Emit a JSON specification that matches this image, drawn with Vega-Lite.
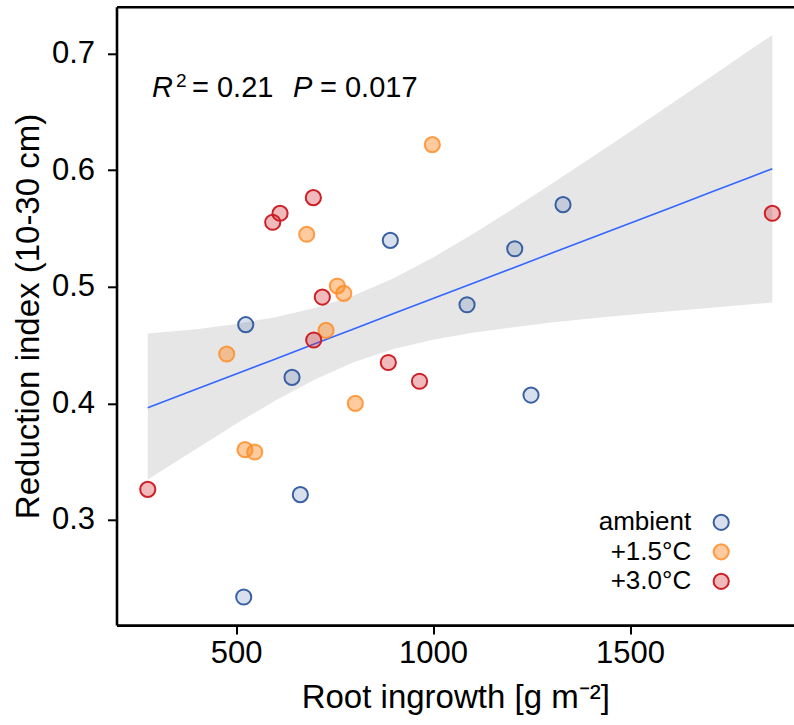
{
  "$schema": "https://vega.github.io/schema/vega-lite/v6.json",
  "autosize": "none",
  "width": 677.5,
  "height": 618.3,
  "padding": {"left": 116.5, "top": 6.8, "right": 0, "bottom": 99.9},
  "background": "white",
  "config": {
    "view": {"stroke": null},
    "font": "Liberation Sans",
    "axis": {
      "grid": false,
      "domainColor": "black",
      "domainWidth": 2.6,
      "tickColor": "black",
      "tickWidth": 2,
      "tickSize": 9,
      "labelFont": "Liberation Sans",
      "labelFontSize": 31,
      "labelColor": "black",
      "titleFont": "Liberation Sans",
      "titleFontSize": 33,
      "titleFontWeight": "normal",
      "titleColor": "black"
    }
  },
  "datasets": {
    "plots": [
      {"root_ingrowth": 524.6, "reduction_index": 0.4674, "treatment": "ambient"},
      {"root_ingrowth": 642.1, "reduction_index": 0.4223, "treatment": "ambient"},
      {"root_ingrowth": 663.2, "reduction_index": 0.3217, "treatment": "ambient"},
      {"root_ingrowth": 519.5, "reduction_index": 0.2340, "treatment": "ambient"},
      {"root_ingrowth": 891.6, "reduction_index": 0.5397, "treatment": "ambient"},
      {"root_ingrowth": 1329.9, "reduction_index": 0.5703, "treatment": "ambient"},
      {"root_ingrowth": 1207.4, "reduction_index": 0.5325, "treatment": "ambient"},
      {"root_ingrowth": 1086.3, "reduction_index": 0.4845, "treatment": "ambient"},
      {"root_ingrowth": 1248.7, "reduction_index": 0.4071, "treatment": "ambient"},
      {"root_ingrowth": 679.4, "reduction_index": 0.5449, "treatment": "+1.5°C"},
      {"root_ingrowth": 757.1, "reduction_index": 0.5006, "treatment": "+1.5°C"},
      {"root_ingrowth": 773.4, "reduction_index": 0.4943, "treatment": "+1.5°C"},
      {"root_ingrowth": 728.4, "reduction_index": 0.4626, "treatment": "+1.5°C"},
      {"root_ingrowth": 476.4, "reduction_index": 0.4423, "treatment": "+1.5°C"},
      {"root_ingrowth": 802.8, "reduction_index": 0.4000, "treatment": "+1.5°C"},
      {"root_ingrowth": 522.8, "reduction_index": 0.3603, "treatment": "+1.5°C"},
      {"root_ingrowth": 547.5, "reduction_index": 0.3583, "treatment": "+1.5°C"},
      {"root_ingrowth": 998.2, "reduction_index": 0.6217, "treatment": "+1.5°C"},
      {"root_ingrowth": 696.2, "reduction_index": 0.5763, "treatment": "+3.0°C"},
      {"root_ingrowth": 611.7, "reduction_index": 0.5629, "treatment": "+3.0°C"},
      {"root_ingrowth": 593.1, "reduction_index": 0.5552, "treatment": "+3.0°C"},
      {"root_ingrowth": 719.0, "reduction_index": 0.4911, "treatment": "+3.0°C"},
      {"root_ingrowth": 697.2, "reduction_index": 0.4543, "treatment": "+3.0°C"},
      {"root_ingrowth": 886.5, "reduction_index": 0.4350, "treatment": "+3.0°C"},
      {"root_ingrowth": 965.7, "reduction_index": 0.4189, "treatment": "+3.0°C"},
      {"root_ingrowth": 275.9, "reduction_index": 0.3263, "treatment": "+3.0°C"},
      {"root_ingrowth": 1861.2, "reduction_index": 0.5629, "treatment": "+3.0°C"}
    ],
    "fit": [
      {"root_ingrowth": 275.9, "fit": 0.3963, "lower": 0.3348, "upper": 0.4598},
      {"root_ingrowth": 400, "fit": 0.4123, "lower": 0.3611, "upper": 0.4635},
      {"root_ingrowth": 500, "fit": 0.4252, "lower": 0.3824, "upper": 0.4681},
      {"root_ingrowth": 600, "fit": 0.4381, "lower": 0.4024, "upper": 0.4738},
      {"root_ingrowth": 700, "fit": 0.4511, "lower": 0.4205, "upper": 0.4817},
      {"root_ingrowth": 800, "fit": 0.4640, "lower": 0.4354, "upper": 0.4926},
      {"root_ingrowth": 900, "fit": 0.4769, "lower": 0.4466, "upper": 0.5072},
      {"root_ingrowth": 1000, "fit": 0.4898, "lower": 0.4546, "upper": 0.5250},
      {"root_ingrowth": 1100, "fit": 0.5027, "lower": 0.4605, "upper": 0.5450},
      {"root_ingrowth": 1200, "fit": 0.5156, "lower": 0.4651, "upper": 0.5661},
      {"root_ingrowth": 1300, "fit": 0.5286, "lower": 0.4692, "upper": 0.5881},
      {"root_ingrowth": 1400, "fit": 0.5415, "lower": 0.4727, "upper": 0.6103},
      {"root_ingrowth": 1500, "fit": 0.5544, "lower": 0.4759, "upper": 0.6329},
      {"root_ingrowth": 1600, "fit": 0.5673, "lower": 0.4789, "upper": 0.6557},
      {"root_ingrowth": 1700, "fit": 0.5802, "lower": 0.4818, "upper": 0.6786},
      {"root_ingrowth": 1800, "fit": 0.5932, "lower": 0.4847, "upper": 0.7017},
      {"root_ingrowth": 1861.2, "fit": 0.6011, "lower": 0.4864, "upper": 0.7158}
    ],
    "annotation": [{}]
  },
  "layer": [
    {
      "data": {"name": "fit"},
      "mark": {"type": "area", "color": "#e6e6e6"},
      "encoding": {
        "x": {
          "field": "root_ingrowth", "type": "quantitative",
          "scale": {"domain": [196.6, 1916.2], "nice": false, "zero": false},
          "axis": {"orient": "top", "labels": false, "ticks": false, "title": null}
        },
        "y": {
          "field": "lower", "type": "quantitative",
          "scale": {"domain": [0.2099, 0.7399], "nice": false, "zero": false},
          "axis": {"values": [0.3, 0.4, 0.5, 0.6, 0.7], "format": ".1f", "labelPadding": 13, "titlePadding": 6, "title": "Reduction index (10-30 cm)"}
        },
        "y2": {"field": "upper"}
      }
    },
    {
      "data": {"name": "fit"},
      "mark": {"type": "line", "color": "#3366ff", "strokeWidth": 1.6},
      "encoding": {
        "x": {"field": "root_ingrowth", "type": "quantitative", "axis": null},
        "y": {"field": "fit", "type": "quantitative", "title": "Reduction index (10-30 cm)"}
      }
    },
    {
      "data": {"name": "plots"},
      "mark": {"type": "point", "shape": "circle", "size": 230, "strokeWidth": 2, "opacity": 1},
      "encoding": {
        "x": {
          "field": "root_ingrowth", "type": "quantitative",
          "axis": {"orient": "bottom", "values": [500, 1000, 1500], "format": "d", "labelPadding": 4, "titlePadding": 13, "title": "Root ingrowth [g m⁻²]"}
        },
        "y": {"field": "reduction_index", "type": "quantitative", "title": "Reduction index (10-30 cm)"},
        "fill": {
          "field": "treatment", "type": "nominal",
          "scale": {"domain": ["ambient", "+1.5°C", "+3.0°C"], "range": ["rgba(60,100,168,0.2)", "rgba(255,140,40,0.45)", "rgba(204,26,34,0.3)"]},
          "legend": {"orient": "none", "legendX": 591.7, "legendY": 502.5, "title": null, "labelFontSize": 26, "labelFont": "Liberation Sans", "labelColor": "black", "labelAlign": "right", "labelOffset": -43, "symbolSize": 230, "symbolStrokeWidth": 2, "rowPadding": 3.5, "padding": 0}
        },
        "stroke": {
          "field": "treatment", "type": "nominal",
          "scale": {"domain": ["ambient", "+1.5°C", "+3.0°C"], "range": ["#3a60a4", "rgba(255,136,30,0.8)", "#cc1f26"]},
          "legend": {"orient": "none", "legendX": 591.7, "legendY": 502.5, "title": null, "labelFontSize": 26, "labelFont": "Liberation Sans", "labelColor": "black", "labelAlign": "right", "labelOffset": -43, "symbolSize": 230, "symbolStrokeWidth": 2, "rowPadding": 3.5, "padding": 0}
        }
      }
    },
    {
      "data": {"name": "annotation"},
      "mark": {"type": "text", "text": "R", "fontStyle": "italic", "fontSize": 29, "align": "left", "baseline": "alphabetic", "color": "black"},
      "encoding": {
        "x": {"datum": 286.7, "type": "quantitative", "axis": null},
        "y": {"datum": 0.6625, "type": "quantitative", "title": "Reduction index (10-30 cm)"}
      }
    },
    {
      "data": {"name": "annotation"},
      "mark": {"type": "text", "text": "2", "fontSize": 19, "align": "left", "baseline": "alphabetic", "color": "black"},
      "encoding": {
        "x": {"datum": 347.6, "type": "quantitative", "axis": null},
        "y": {"datum": 0.6711, "type": "quantitative", "title": "Reduction index (10-30 cm)"}
      }
    },
    {
      "data": {"name": "annotation"},
      "mark": {"type": "text", "text": "= 0.21", "fontSize": 29, "align": "left", "baseline": "alphabetic", "color": "black"},
      "encoding": {
        "x": {"datum": 388.2, "type": "quantitative", "axis": null},
        "y": {"datum": 0.6625, "type": "quantitative", "title": "Reduction index (10-30 cm)"}
      }
    },
    {
      "data": {"name": "annotation"},
      "mark": {"type": "text", "text": "P", "fontStyle": "italic", "fontSize": 29, "align": "left", "baseline": "alphabetic", "color": "black"},
      "encoding": {
        "x": {"datum": 644.6, "type": "quantitative", "axis": null},
        "y": {"datum": 0.6625, "type": "quantitative", "title": "Reduction index (10-30 cm)"}
      }
    },
    {
      "data": {"name": "annotation"},
      "mark": {"type": "text", "text": "= 0.017", "fontSize": 29, "align": "left", "baseline": "alphabetic", "color": "black"},
      "encoding": {
        "x": {"datum": 713.1, "type": "quantitative", "axis": null},
        "y": {"datum": 0.6625, "type": "quantitative", "title": "Reduction index (10-30 cm)"}
      }
    }
  ],
  "resolve": {"axis": {"x": "independent"}}
}
